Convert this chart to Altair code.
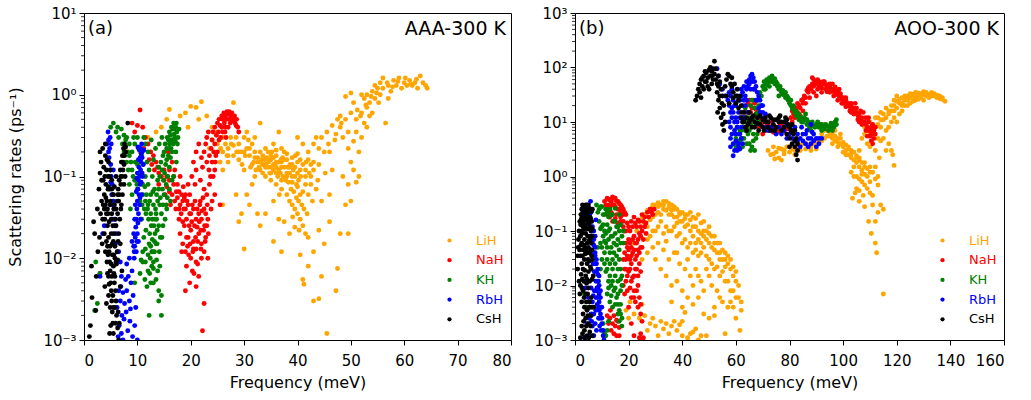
import altair as alt
import pandas as pd

SERIES = ["LiH", "NaH", "KH", "RbH", "CsH"]
COLORS = ["#FFA500", "#FF0000", "#008000", "#0000FF", "#000000"]

# ---------------- panel (a): AAA-300 K  (frequency meV, scattering rate ps^-1)
A_CSH = [(1.0,0.0011),(1.2,0.0015),(1.5,0.0033),(1.4,0.008),(1.8,0.028),(2.0,0.02),(2.2,0.0023),(2.3,0.006),(2.5,0.04),
         (2.6,0.012),(2.8,0.07),(3.0,0.11),(3.0,0.2),(3.2,0.15),(3.3,0.05),(3.5,0.03),(3.6,0.09),(3.8,0.06),(3.4,0.015),
         (4.0,0.18),(4.2,0.12),(4.1,0.08),(4.3,0.05),(4.5,0.035),(4.4,0.025),(4.6,0.018),(4.7,0.012),(4.8,0.009),(4.9,0.007),
         (5.0,0.005),(5.1,0.004),(5.2,0.003),(5.3,0.0022),(5.4,0.0016),(5.5,0.0012),(4.2,0.016),(4.6,0.006),(4.9,0.0025),
         (5.0,0.0015),(4.5,0.1),(4.8,0.07),(5.0,0.05),(5.2,0.035),(5.4,0.025),(5.3,0.015),(5.6,0.02),(5.8,0.01),(5.5,0.008),
         (5.7,0.005),(5.9,0.004),(6.0,0.003),(6.1,0.002),(6.3,0.0014),(5.8,0.006),(5.1,0.02),(4.4,0.04),(3.9,0.03),(4.0,0.012),
         (4.3,0.009),(3.8,0.02),(5.6,0.04),(5.9,0.03),(6.2,0.05),(6.4,0.07),(6.6,0.09),(6.8,0.12),(7.0,0.15),(7.2,0.18),
         (7.4,0.22),(7.6,0.25),(7.8,0.2),(7.5,0.14),(7.1,0.1),(6.9,0.08),(6.6,0.06),(6.3,0.035),(6.0,0.025),(6.5,0.02),
         (6.7,0.03),(7.0,0.045),(5.0,0.12),(5.2,0.09),(5.4,0.06),(3.7,0.13),(4.0,0.25),(3.5,0.22),(8.2,0.45),(6.8,0.015),
         (6.2,0.012),(5.5,0.0025),(6.5,0.001),(4.8,0.0012),(4.6,0.0035),(4.7,0.028),(5.3,0.011),(4.4,0.014),(5.6,0.0065),
         (6.1,0.0085),(3.6,0.045),(4.9,0.045),(5.7,0.075),(6.0,0.1),(7.3,0.12),
         (4.1,0.055),(4.6,0.075),(5.1,0.03),(5.6,0.011),(6.4,0.016),(6.9,0.04),(7.2,0.06),(7.5,0.08),(7.7,0.1),(3.9,0.1),
         (4.3,0.16),(3.3,0.09),(3.1,0.035),(2.9,0.018),(4.7,0.0048),(5.2,0.006),(5.4,0.0035),(5.8,0.0025),(6.4,0.0022),
         (4.4,0.0065),(3.9,0.0045),(4.2,0.0028),(5.9,0.0016),(6.6,0.0016),(6.8,0.0045),(7.1,0.007),(6.3,0.0095),
         (5.5,0.06),(5.7,0.045),(6.0,0.04),(6.3,0.06),(6.5,0.05),(6.9,0.1),(7.3,0.15),(7.6,0.18),(7.8,0.23),(4.6,0.15),
         (4.8,0.1),(5.2,0.07),(4.5,0.07),(4.2,0.035),(4.0,0.045),(3.8,0.04),(5.5,0.016),(5.8,0.014),(6.0,0.009),(5.1,0.0085),
         (4.5,0.011),(4.9,0.014)]
A_RBH = [(4.5,0.35),(4.6,0.28),(4.8,0.22),(4.7,0.17),(5.0,0.14),(5.1,0.1),(5.3,0.08),(5.2,0.06),(5.5,0.05),(5.6,0.04),
         (5.4,0.03),(5.8,0.025),(6.0,0.02),(5.9,0.015),(4.3,0.25),(4.9,0.3),(5.5,0.12),(3.5,0.02),(3.0,0.006),(3.8,0.025),
         (6.5,0.012),(6.8,0.009),(7.0,0.006),(6.5,0.004),(6.8,0.003),(7.1,0.002),(6.6,0.0015),(7.0,0.0012),(7.3,0.001),
         (6.2,0.0025),(7.5,0.0018),(8.0,0.004),(8.5,0.003),(8.8,0.005),(9.0,0.007),(8.3,0.006),(8.7,0.0024),(9.2,0.0035),
         (9.5,0.0015),(10.0,0.001),(9.7,0.0025),(8.0,0.0085),(9.4,0.012),(9.0,0.016),(10.8,0.25),(10.6,0.22),(10.9,0.2),
         (10.5,0.17),(10.7,0.15),(10.3,0.13),(10.6,0.12),(10.4,0.1),(10.2,0.09),(10.5,0.08),(10.1,0.07),(10.3,0.06),
         (10.0,0.05),(10.4,0.045),(9.9,0.04),(10.2,0.035),(9.8,0.03),(10.1,0.027),(9.7,0.024),(10.0,0.02),(9.6,0.018),
         (9.9,0.016),(9.5,0.014),(9.8,0.012),(10.6,0.03),(10.8,0.06),(11.0,0.1),(11.1,0.14),(10.2,0.016),(9.3,0.02),
         (9.4,0.01),(8.5,0.01),(7.6,0.0028),(8.2,0.0013),(6.9,0.0045),(10.7,0.19),(10.9,0.11),
         (4.6,0.2),(4.9,0.12),(5.0,0.085),(5.3,0.045),(5.7,0.03),(5.1,0.25),(10.4,0.21),(10.2,0.16),(10.0,0.11),(9.8,0.065),
         (9.6,0.045),(9.5,0.03),(10.5,0.055),(10.7,0.085),(10.9,0.17),(11.2,0.21),(10.1,0.23),(9.9,0.095),(9.3,0.014),
         (7.8,0.0055),(7.3,0.0038),(8.6,0.0017),(9.1,0.0011),(6.4,0.0011),(7.9,0.0022)]
A_KH = [(5.0,0.4),(5.5,0.45),(6.0,0.35),(6.5,0.3),(7.0,0.38),(7.5,0.32),(8.0,0.3),(6.3,0.4),(7.8,0.28),(8.5,0.25),(9.0,0.2),
        (8.8,0.15),(8.3,0.12),(8.5,0.08),(9.0,0.06),(8.7,0.04),(9.2,0.1),(11.5,0.25),(12.0,0.2),(11.8,0.15),(12.2,0.12),
        (11.5,0.1),(12.0,0.08),(11.7,0.06),(12.3,0.05),(11.9,0.04),(12.5,0.035),(12.1,0.03),(12.6,0.025),(12.3,0.02),
        (12.8,0.017),(12.5,0.014),(12.9,0.012),(12.4,0.01),(12.7,0.008),(12.0,0.007),(13.0,0.009),(13.2,0.012),(13.5,0.015),
        (13.3,0.02),(13.6,0.03),(13.4,0.04),(13.8,0.05),(13.6,0.06),(14.0,0.07),(13.8,0.09),(14.2,0.1),(14.0,0.13),
        (14.4,0.15),(14.6,0.12),(14.8,0.18),(15.0,0.2),(15.2,0.25),(15.5,0.22),(15.6,0.3),(15.8,0.28),(16.0,0.35),
        (16.2,0.32),(16.4,0.4),(16.6,0.38),(16.8,0.45),(17.0,0.42),(17.2,0.4),(17.4,0.35),(17.0,0.3),(16.7,0.25),(16.5,0.2),
        (16.2,0.17),(16.0,0.13),(15.7,0.1),(15.4,0.08),(15.0,0.06),(14.8,0.045),(14.5,0.035),(14.8,0.025),(15.2,0.03),
        (15.5,0.04),(16.2,0.05),(16.0,0.07),(17.2,0.2),(17.5,0.25),(17.3,0.15),(16.8,0.1),(11.0,0.06),(11.3,0.04),
        (10.8,0.03),(11.2,0.018),(11.0,0.012),(11.5,0.009),(13.8,0.007),(14.2,0.008),(11.8,0.0045),(13.0,0.005),(14.0,0.004),
        (14.5,0.0035),(12.2,0.002),(14.5,0.002),(2.0,0.0023),(2.5,0.0028),(3.0,0.0065),(2.2,0.009),(9.5,0.005),(10.5,0.0065),
        (13.5,0.0055),(14.0,0.003),(16.9,0.33),(17.1,0.27),(16.4,0.28),(15.9,0.22),(13.1,0.025),(12.2,0.015),(11.6,0.022),
        (9.6,0.15),(9.9,0.08),(12.9,0.065),(14.3,0.055),
        (8.2,0.2),(7.2,0.25),(9.3,0.3),(10.2,0.22),(10.8,0.18),(11.2,0.3),(11.1,0.14),(11.4,0.075),(10.9,0.045),(11.6,0.035),
        (12.8,0.1),(13.2,0.07),(13.0,0.16),(12.6,0.28),(13.4,0.22),(14.1,0.25),(14.6,0.3),(15.3,0.14),(15.1,0.11),(14.2,0.045),
        (13.7,0.022),(13.2,0.016),(12.7,0.012),(14.1,0.012),(14.6,0.018),(15.6,0.055),(16.5,0.09),(17.6,0.3),(17.8,0.38),
        (15.4,0.045),(12.3,0.0065),(11.4,0.0055),(10.7,0.0095),(13.6,0.0095),
        (7.5,0.2),(8.0,0.15),(8.5,0.18),(9.0,0.12),(9.5,0.09),(10.0,0.07),(10.5,0.05),(10.0,0.14),(10.5,0.11),(9.5,0.25),
        (10.0,0.3),(11.0,0.08),(11.5,0.05),(12.0,0.045),(12.5,0.06),(13.0,0.045),(13.5,0.035),(12.8,0.03),(13.3,0.03),
        (14.0,0.025),(13.7,0.015),(14.3,0.018),(12.0,0.011),(11.5,0.013),(11.0,0.009),(12.5,0.005),(13.0,0.0075),(15.5,0.16),
        (16.0,0.25),(16.3,0.22),(16.9,0.38),(17.3,0.45),(15.8,0.18),(14.9,0.09),(14.7,0.07)]
A_NAH = [(10.5,0.65),(9.0,0.45),(10.0,0.42),(11.0,0.4),(9.5,0.35),(11.5,0.3),(12.0,0.25),(11.2,0.22),(12.5,0.2),(13.0,0.18),
         (12.7,0.14),(13.2,0.12),(14.0,0.11),(13.5,0.15),(14.5,0.1),(14.0,0.08),(15.0,0.09),(15.5,0.075),(15.2,0.06),
         (16.0,0.065),(16.5,0.06),(16.2,0.045),(17.0,0.05),(17.5,0.055),(17.2,0.04),(18.0,0.045),(18.5,0.05),(18.2,0.035),
         (19.0,0.04),(19.5,0.045),(19.2,0.03),(20.0,0.035),(20.5,0.04),(21.0,0.03),(21.5,0.035),(22.0,0.03),(22.5,0.04),
         (18.8,0.025),(18.0,0.02),(18.5,0.015),(19.0,0.012),(19.5,0.018),(20.0,0.022),(20.5,0.016),(21.0,0.013),(21.5,0.02),
         (22.0,0.015),(22.5,0.012),(23.0,0.025),(23.2,0.03),(19.2,0.008),(20.0,0.01),(21.0,0.009),(22.0,0.01),(20.3,0.007),
         (21.5,0.006),(19.8,0.005),(19.0,0.004),(22.5,0.0028),(22.2,0.0013),(21.0,0.0045),(18.0,0.1),(17.5,0.08),(17.0,0.12),
         (16.5,0.15),(16.0,0.12),(15.8,0.2),(19.0,0.06),(19.5,0.08),(20.2,0.1),(20.5,0.15),(21.0,0.2),(21.5,0.25),(21.0,0.12),
         (20.8,0.08),(21.8,0.09),(22.2,0.13),(22.0,0.17),(22.5,0.2),(22.8,0.25),(23.0,0.3),(23.3,0.35),(23.0,0.15),(23.5,0.18),
         (23.8,0.22),(24.0,0.28),(24.2,0.35),(24.5,0.4),(24.8,0.32),(24.5,0.25),(25.0,0.45),(25.3,0.5),(25.5,0.42),
         (25.8,0.55),(26.0,0.5),(26.2,0.6),(26.5,0.55),(26.8,0.62),(27.0,0.58),(27.2,0.5),(27.5,0.55),(27.8,0.48),(28.0,0.5),
         (28.3,0.45),(28.5,0.42),(28.8,0.4),(29.0,0.35),(24.0,0.15),(24.5,0.12),(23.5,0.08),(23.0,0.06),(24.0,0.05),
         (22.5,0.07),(23.8,0.04),(25.0,0.2),(25.3,0.28),(26.0,0.35),(26.5,0.4),(27.0,0.4),(25.5,0.045),(24.5,0.06),(3.0,0.0065),
         (17.8,0.065),(18.6,0.075),(19.7,0.025),(20.8,0.05),(21.8,0.05),(22.8,0.018),(23.2,0.01),(20.6,0.0065),(19.4,0.014),
         (12.2,0.16),(13.8,0.13),(15.0,0.12),(16.8,0.08),(17.8,0.03),(18.8,0.055),(19.8,0.06),(20.2,0.028),(21.2,0.024),
         (21.7,0.045),(22.3,0.055),(22.8,0.035),(23.4,0.12),(24.3,0.2),(24.7,0.18),(25.6,0.3),(26.3,0.45),(26.7,0.5),
         (27.4,0.45),(18.3,0.012),(19.6,0.011),(20.9,0.018),(21.9,0.022),(20.4,0.012),(19.2,0.018),(22.7,0.016),(21.3,0.0085),
         (15.5,0.1),(16.0,0.09),(16.8,0.1),(17.3,0.065),(18.3,0.06),(18.7,0.04),(19.3,0.05),(19.8,0.035),(20.3,0.045),
         (20.7,0.025),(21.2,0.04),(21.6,0.028),(22.1,0.038),(22.6,0.025),(23.1,0.045),(17.8,0.04),(18.5,0.028),(19.9,0.015),
         (21.3,0.016),(22.4,0.022),(20.5,0.013),(21.9,0.013),(23.3,0.02),(23.7,0.1),(24.2,0.1),(24.6,0.15),(25.2,0.35),
         (25.8,0.4),(26.4,0.35),(27.2,0.62),(27.7,0.6),(28.2,0.55),(28.6,0.5),(26.6,0.3)]
A_LIH = [(10.5,0.2),(12.0,0.3),(13.5,0.35),(14.5,0.4),(15.5,0.5),(16.0,0.66),(17.0,0.4),(18.0,0.55),(19.0,0.6),(19.5,0.4),
         (20.0,0.72),(21.0,0.7),(21.5,0.5),(22.0,0.82),(23.0,0.55),(24.0,0.4),(25.0,0.35),(26.0,0.3),(27.0,0.22),(28.0,0.8),
         (26.5,0.25),(28.5,0.3),(29.0,0.25),(29.5,0.2),(30.0,0.3),(30.5,0.22),(31.0,0.18),(31.5,0.25),(32.0,0.2),(32.5,0.15),
         (33.0,0.45),(33.5,0.18),(34.0,0.14),(34.5,0.2),(35.0,0.16),(35.5,0.12),(36.0,0.18),(36.5,0.15),(37.0,0.22),
         (37.5,0.13),(38.0,0.16),(38.5,0.11),(39.0,0.14),(39.5,0.1),(40.0,0.15),(40.5,0.12),(41.0,0.25),(42.0,0.2),(43.0,0.15),
         (44.0,0.22),(45.0,0.2),(32.0,0.1),(33.0,0.12),(34.0,0.1),(35.0,0.09),(36.0,0.08),(37.0,0.07),(38.0,0.06),(38.5,0.05),
         (39.0,0.045),(39.5,0.04),(40.0,0.035),(40.5,0.03),(41.0,0.025),(41.5,0.02),(40.5,0.06),(41.5,0.08),(42.5,0.1),
         (43.5,0.07),(44.5,0.05),(46.0,0.06),(46.5,0.12),(30.0,0.12),(29.0,0.16),(28.0,0.18),(27.0,0.15),(26.0,0.12),
         (30.5,0.06),(31.0,0.045),(32.5,0.035),(34.0,0.035),(35.5,0.05),(36.5,0.03),(37.5,0.028),(29.0,0.028),(30.0,0.013),
         (33.0,0.025),(35.5,0.016),(37.0,0.012),(39.5,0.024),(42.0,0.018),(43.0,0.012),(44.0,0.022),(45.0,0.015),(46.0,0.028),
         (47.5,0.0075),(47.2,0.004),(43.0,0.003),(44.0,0.0032),(41.0,0.0055),(42.0,0.008),(40.5,0.011),(45.5,0.0012),
         (38.5,0.02),(41.2,0.0048),(44.5,0.006),(48.0,0.02),(49.0,0.045),(49.5,0.02),(26.0,0.045),(29.5,0.035),(28.5,0.06),
         (31.5,0.08),(44.5,0.3),(45.5,0.35),(46.5,0.42),(47.5,0.5),(48.0,0.4),(48.5,0.3),(49.0,0.5),(49.5,0.35),(49.5,0.22),
         (50.0,0.15),(50.5,0.27),(50.0,0.6),(50.5,0.8),(51.0,0.5),(51.0,0.35),(51.5,0.2),(51.5,0.1),(52.0,0.3),(52.0,0.6),
         (52.5,0.9),(52.5,0.45),(53.0,0.7),(53.0,1.0),(53.5,0.8),(54.0,1.1),(54.0,0.6),(54.5,0.9),(55.0,1.2),(55.5,1.0),
         (55.5,1.4),(56.0,1.2),(56.5,0.45),(57.0,1.3),(57.5,1.1),(58.0,1.5),(58.5,1.3),(59.0,1.6),(59.5,1.2),(60.0,1.4),
         (60.5,1.3),(61.0,1.5),(61.5,1.3),(62.0,1.4),(62.5,1.2),(63.0,1.7),(63.5,1.4),(64.0,1.3),(64.3,1.2),(56.0,1.6),
         (57.0,0.9),(49.0,0.95),(50.0,1.05),(48.0,0.55),(47.0,0.28),(46.0,0.2),(48.5,0.1),(49.5,0.08),(51.0,0.085),(50.5,0.12),
         (50.0,0.05),(53.5,0.55),(52.0,1.0),(54.5,1.3),(53.0,0.4),(33.5,0.14),(34.5,0.13),(35.5,0.17),(36.0,0.13),(36.8,0.11),
         (37.2,0.17),(34.8,0.11),(33.8,0.16),(35.2,0.2),(36.3,0.1),(38.2,0.13),(39.2,0.12),(32.8,0.13),(31.8,0.15),(37.8,0.09),
         (39.8,0.08),(38.8,0.07),(36.6,0.06),(40.2,0.09),(41.5,0.12),(42.5,0.14),(43.5,0.3),(30.8,0.28),(35.5,0.25),(37.5,0.2),
         (34.2,0.17),(35.8,0.14),(36.9,0.16),(34.6,0.15),(33.2,0.16),(32.2,0.12),(31.2,0.13),(30.2,0.18),(29.6,0.14),
         (28.6,0.2),(27.6,0.25),(26.8,0.18),(25.6,0.22),(38.6,0.14),(39.6,0.18),(40.6,0.1),(41.6,0.15),(42.2,0.11),
         (37.3,0.1),(38.3,0.085),(39.3,0.065),(40.8,0.045),(39.1,0.032),(40.3,0.022),(41.8,0.035),(42.8,0.05),(43.8,0.09),
         (45.2,0.11),(45.8,0.25),(47.2,0.33),(48.2,0.45),(51.2,0.65),(51.8,0.55),(52.8,0.75),(53.8,0.95),(54.8,1.05),
         (55.2,0.8),(56.8,1.4),(57.8,1.25),(58.8,1.45),(60.2,1.6),(61.2,1.35),(62.3,1.55),
         (30.0,0.2),(31.0,0.22),(32.0,0.17),(33.0,0.2),(34.0,0.22),(35.0,0.18),(36.0,0.21),(37.0,0.15),(38.0,0.19),
         (39.0,0.17),(40.0,0.19),(41.0,0.14),(42.0,0.16),(43.0,0.12),(44.0,0.14),(31.5,0.14),(32.5,0.17),(33.5,0.11),
         (34.5,0.16),(35.5,0.14),(36.5,0.12),(37.5,0.16),(38.5,0.13),(39.5,0.13),(40.5,0.16),(41.5,0.1),(42.5,0.08),
         (33.0,0.15),(34.0,0.13),(35.0,0.13),(36.0,0.15),(37.0,0.13),(38.0,0.11),(39.0,0.1),(40.0,0.11),(35.0,0.11),
         (36.0,0.11),(37.0,0.09),(38.0,0.1),(39.0,0.085),(40.0,0.075),(41.0,0.065),(42.0,0.06),(40.2,0.05),(41.2,0.04),
         (39.8,0.055),(28.0,0.24),(29.0,0.2),(27.5,0.3),(26.0,0.2),(27.0,0.18),(25.5,0.15),(25.0,0.25),(24.0,0.28),
         (23.5,0.22),(30.5,0.35),(32.0,0.3),(36.5,0.35),(40.0,0.3),(43.0,0.25)]

# ---------------- panel (b): AOO-300 K
B_CSH = [(1.0,0.02),(1.2,0.05),(1.5,0.1),(1.8,0.15),(2.0,0.08),(2.2,0.2),(2.5,0.25),(2.8,0.3),(3.0,0.12),(3.2,0.18),(3.5,0.22),
         (3.8,0.28),(4.0,0.3),(4.2,0.25),(4.5,0.2),(4.8,0.15),(5.0,0.3),(5.2,0.22),(5.5,0.18),(5.8,0.12),(6.0,0.1),(6.2,0.15),
         (6.5,0.08),(2.5,0.06),(3.0,0.045),(3.5,0.07),(4.0,0.09),(4.5,0.06),(5.0,0.05),(5.5,0.04),(6.0,0.06),(2.0,0.035),
         (2.5,0.025),(3.0,0.02),(3.5,0.03),(4.0,0.015),(4.5,0.025),(5.0,0.018),(5.5,0.012),(6.0,0.02),(6.5,0.03),(1.5,0.012),
         (2.0,0.01),(3.0,0.008),(4.0,0.007),(5.0,0.009),(6.0,0.006),(2.5,0.005),(3.5,0.004),(4.5,0.0035),(5.5,0.005),(3.0,0.003),
         (4.0,0.0025),(5.0,0.002),(6.0,0.0028),(2.5,0.0018),(3.5,0.0015),(4.5,0.0012),(5.5,0.0014),(2.0,0.0011),(6.5,0.0012),
         (7.0,0.004),(6.8,0.015),(3.0,0.14),(4.0,0.13),(5.0,0.11),(6.5,0.25),(1.0,0.035),(3.7,0.05),(4.7,0.04),(5.7,0.07),
         (2.7,0.1),(3.3,0.012),(4.3,0.011),(5.3,0.028),(6.3,0.045),
         (1.3,0.07),(1.7,0.045),(2.1,0.13),(2.4,0.17),(2.6,0.09),(2.9,0.22),(3.1,0.26),(3.4,0.16),(3.6,0.11),(3.9,0.2),
         (4.1,0.17),(4.4,0.28),(4.6,0.11),(4.9,0.22),(5.1,0.14),(5.4,0.26),(5.6,0.08),(5.9,0.17),(6.1,0.23),(6.4,0.11),
         (2.2,0.055),(2.8,0.035),(3.3,0.055),(3.8,0.038),(4.2,0.045),(4.8,0.08),(5.2,0.065),(5.8,0.045),(6.2,0.035),
         (2.3,0.016),(2.7,0.013),(3.6,0.019),(4.4,0.013),(4.9,0.03),(5.7,0.022),(6.4,0.013),(1.8,0.007),(2.6,0.009),
         (3.4,0.006),(4.2,0.005),(4.7,0.007),(5.3,0.004),(6.3,0.004),(3.2,0.0022),(4.2,0.0018),(4.8,0.0028),(5.8,0.0018),
         (2.8,0.0013),(3.8,0.0011),(5.1,0.0011),
         (45.0,25),(45.5,30),(46.0,40),(46.5,50),(47.0,60),(47.5,45),(48.0,70),(48.5,55),(49.0,80),(49.5,65),(50.0,90),
         (50.5,70),(51.0,85),(51.5,60),(52.0,130),(52.0,75),(52.5,95),(53.0,50),(53.0,35),(53.5,70),(53.5,25),(54.0,55),
         (54.0,18),(54.5,40),(54.5,12),(55.0,30),(55.0,9),(55.5,20),(55.5,7),(56.0,45),(56.5,60),(57.0,75),(57.5,70),
         (58.0,50),(58.5,45),(59.0,35),(60.0,30),(61.0,25),(62.0,20),(63.0,15),(64.0,12),(62.5,10),(63.5,8),(64.5,9),
         (65.5,11),(66.0,8),(67.0,10),(68.0,12),(69.0,9),(70.0,11),(71.0,10),(72.0,8),(73.0,12),(74.0,9),(75.0,11),(76.0,10),
         (77.0,7),(78.0,10),(79.0,6),(79.5,9),(80.0,5),(80.5,7),(81.0,4),(81.5,6),(82.0,3.5),(82.5,5),(83.0,3),(83.0,2.0),
         (82.5,2.5),(65.0,15),(66.5,13),(68.5,7),(70.5,7),(72.5,13),(74.5,7),(76.5,13),(78.5,12),(50.0,40),(51.0,50),
         (56.5,30),(57.5,22),
         (46.5,35),(47.5,65),(48.5,85),(49.5,45),(50.5,100),(51.5,95),(52.5,60),(48.0,40),(49.0,55),(51.0,70),(47.0,28),
         (53.5,45),(54.0,30),(54.8,22),(55.3,14),(56.0,10),(53.2,15),(62.0,12),(63.0,10),(64.0,7),(65.0,10),(66.0,12),
         (67.0,8),(68.0,9.5),(69.0,13),(70.0,8),(71.0,12),(72.0,10),(73.0,7),(74.0,11),(75.0,8),(76.0,12),(77.0,10),(78.0,8),
         (79.0,11),(80.0,8),(81.0,9),(81.0,6.5),(82.0,7),(80.0,3.5),(82.0,4.5),(83.0,4),(58.5,65),(59.5,50),(60.5,40),
         (61.5,30),(60.0,22),(61.0,18),(62.0,15),(59.0,28)]
B_RBH = [(4.5,0.3),(5.0,0.25),(5.5,0.2),(6.0,0.15),(6.5,0.12),(7.0,0.1),(7.0,0.07),(7.5,0.05),(7.5,0.035),(8.0,0.025),
         (8.0,0.018),(8.5,0.012),(8.5,0.009),(9.0,0.007),(9.0,0.005),(9.5,0.004),(9.5,0.003),(10.0,0.0025),(10.0,0.002),
         (10.5,0.0015),(10.5,0.0012),(6.5,0.06),(7.0,0.04),(7.5,0.025),(8.0,0.008),(8.5,0.006),(9.0,0.0035),(6.0,0.009),
         (6.5,0.005),(7.0,0.003),(7.5,0.002),(8.0,0.0015),(4.0,0.009),(5.0,0.006),(5.5,0.004),(6.0,0.003),(6.5,0.0018),
         (7.0,0.0012),(9.5,0.008),(9.0,0.015),(8.5,0.02),(5.5,0.0012),(4.5,0.002),(3.5,0.0011),(7.5,0.08),(6.0,0.22),
         (5.0,0.15),(5.5,0.12),(6.0,0.1),(6.5,0.08),(7.0,0.055),(7.5,0.04),(8.0,0.03),(8.5,0.016),(9.0,0.01),(9.5,0.006),
         (10.0,0.004),(6.2,0.04),(6.8,0.025),(7.2,0.018),(7.8,0.012),(8.2,0.009),(8.8,0.004),(9.3,0.0025),(9.8,0.0015),
         (7.2,0.008),(7.8,0.006),(8.3,0.0045),(6.8,0.0065),(5.3,0.0025),(6.2,0.0022),(7.8,0.0035),(8.8,0.0025),(9.2,0.0018),
         (10.8,0.001),(5.8,0.35),(7.8,0.16),
         (53.0,95),(53.5,70),(54.0,50),(55.0,40),(56.0,30),(57.0,25),(57.5,20),(58.0,15),(58.5,12),(58.0,8),(58.5,6),(59.0,4),
         (59.0,2.4),(59.5,10),(60.0,20),(60.0,6),(60.5,30),(61.0,15),(61.0,4),(61.5,25),(62.0,40),(62.0,8),(62.5,20),(63.0,45),
         (63.0,12),(64.0,55),(64.0,25),(64.5,15),(65.0,60),(65.5,70),(66.0,75),(66.5,65),(67.0,55),(67.5,45),(68.0,35),
         (68.5,30),(69.0,25),(69.5,20),(70.0,15),(70.5,12),(71.0,10),(71.5,8),(72.0,7),(66.5,40),(67.5,25),(68.5,18),
         (58.0,3.5),(59.5,3),(60.0,4.5),(61.0,3.5),(62.0,5),(80.0,6),(81.0,5),(82.0,8),(83.0,6),(84.0,5),(85.0,4.5),(86.0,6),
         (87.0,5),(88.0,4),(89.0,4.5),(90.0,3.5),(91.0,5),(84.5,8),(86.5,7),(88.5,6.5),(79.0,9),(84.0,3.5),(87.0,3.5),(88.0,9),
         (59.5,7),(60.5,10),(61.5,6),(62.5,12),(63.5,30),(58.5,18),(59.0,25),
         (57.5,35),(58.0,30),(58.5,40),(59.0,15),(59.5,20),(60.0,12),(60.5,8),(61.0,25),(61.5,12),(62.0,30),(62.5,35),
         (63.0,25),(63.5,20),(64.0,40),(64.5,45),(65.0,50),(65.5,40),(66.0,55),(67.0,40),(68.0,25),(69.0,15),(70.0,20),
         (71.0,14),(72.0,10),(73.0,8),(74.0,7),(75.0,6),(76.0,8),(77.0,6),(78.0,7),(79.0,5),(81.0,7),(83.0,4.5),(85.0,6),
         (86.0,4),(88.0,5),(89.0,6),(90.0,5),(91.0,4),(92.0,5),(57.5,10),(58.0,5),(60.5,3),(62.5,4),(61.5,3.2)]
B_KH = [(8.0,0.3),(9.0,0.25),(10.0,0.28),(11.0,0.2),(12.0,0.22),(13.0,0.25),(14.0,0.2),(15.0,0.15),(16.0,0.12),(17.0,0.13),
        (18.0,0.1),(9.0,0.15),(10.0,0.12),(11.0,0.1),(12.0,0.13),(13.0,0.11),(14.0,0.08),(15.0,0.09),(16.0,0.07),(17.0,0.06),
        (10.5,0.08),(11.5,0.06),(12.5,0.07),(13.5,0.05),(14.5,0.04),(15.5,0.035),(16.5,0.03),(17.0,0.02),(17.5,0.015),
        (17.5,0.01),(11.0,0.04),(12.0,0.03),(13.0,0.025),(14.0,0.02),(15.0,0.015),(16.0,0.012),(11.5,0.018),(12.5,0.012),
        (13.5,0.01),(14.5,0.008),(15.5,0.006),(12.0,0.007),(13.0,0.005),(14.0,0.004),(16.0,0.0045),(16.5,0.0035),(17.0,0.003),
        (17.5,0.0025),(12.0,0.0015),(11.5,0.0012),(10.5,0.002),(4.0,0.004),(3.5,0.007),(8.5,0.05),(9.5,0.06),(15.0,0.26),
        (16.5,0.2),
        (8.5,0.22),(9.5,0.28),(10.5,0.2),(11.5,0.25),(12.5,0.18),(13.5,0.2),(14.5,0.15),(15.5,0.12),(16.5,0.1),(17.5,0.08),
        (18.0,0.06),(9.5,0.11),(10.5,0.13),(11.5,0.09),(12.5,0.1),(13.5,0.08),(14.5,0.06),(15.5,0.055),(16.5,0.045),
        (10.0,0.05),(11.0,0.065),(12.0,0.05),(13.0,0.04),(14.0,0.03),(15.0,0.025),(16.0,0.02),(17.0,0.013),(11.0,0.025),
        (12.0,0.02),(13.0,0.015),(14.0,0.012),(15.0,0.009),(16.0,0.007),(17.0,0.008),(12.5,0.009),(13.5,0.0065),(15.0,0.0045),
        (16.0,0.003),(17.0,0.0045),(17.5,0.0018),(16.5,0.0022),(12.5,0.0022),(11.0,0.0013),(8.8,0.012),(9.5,0.02),(10.0,0.03),
        (60.0,5),(60.5,8),(61.0,6),(61.5,4.5),(62.0,7),(62.5,10),(63.0,5),(63.5,12),(64.0,8),(64.5,15),(65.0,4),(65.5,20),
        (66.0,3.5),(66.5,6),(67.0,3),(67.5,9),(68.0,25),(68.5,15),(69.0,35),(69.5,20),(70.0,45),(70.5,55),(71.0,50),(71.5,60),
        (72.0,55),(72.5,65),(73.0,60),(73.5,70),(74.0,55),(74.5,50),(75.0,55),(75.5,45),(76.0,40),(76.5,45),(77.0,35),
        (77.5,38),(78.0,32),(78.5,28),(79.0,30),(79.5,25),(80.0,22),(80.5,25),(81.0,18),(81.5,20),(82.0,15),(82.5,16),
        (83.0,13),(83.5,14),(84.0,11),(84.5,12),(85.0,10),(86.0,11),(86.5,9),(87.0,10),(88.0,9),(89.0,8.5),(90.0,9),(91.0,8),
        (92.0,9),(93.0,7.5),(94.0,8.5),(95.0,8),(96.0,9),(97.0,10),(97.5,9),(88.0,7),(92.0,7),(96.0,7),(86.0,14),(65.0,12),
        (63.5,18),(66.0,25),(67.0,18),(71.0,40),(72.5,45),(76.0,30),(60.0,3.5),(68.5,10),
        (60.5,4),(61.5,7),(62.5,5),(63.5,7),(64.5,6),(65.5,9),(66.5,11),(67.5,14),(68.5,20),(69.5,30),(70.5,40),(71.5,48),
        (72.5,55),(73.5,55),(74.5,62),(75.5,50),(76.5,40),(77.5,32),(78.5,35),(79.5,28),(80.5,20),(81.5,17),(82.5,13),
        (83.5,11),(84.5,10),(85.5,12),(86.5,11),(87.5,8),(88.5,10),(89.5,8),(90.5,10),(91.5,9),(92.5,8),(93.5,9),(94.5,7),
        (95.5,9.5),(96.5,8),(97.5,11),(62.5,3.5),(64.0,4),(65.5,3),(66.5,4.5),(67.5,5),(68.0,6),(63.0,8),(64.0,11),(65.0,7)]
B_NAH = [(11.0,0.35),(12.0,0.4),(13.0,0.38),(14.0,0.42),(15.0,0.4),(16.0,0.35),(17.0,0.3),(18.0,0.25),(19.0,0.2),(12.5,0.3),
         (14.5,0.3),(16.5,0.25),(18.0,0.15),(13.5,0.22),(15.5,0.2),(17.0,0.18),(14.0,0.15),(16.0,0.14),(12.0,0.25),
         (18.0,0.12),(19.0,0.1),(20.0,0.12),(21.0,0.15),(22.0,0.18),(23.0,0.12),(24.0,0.15),(25.0,0.2),(26.0,0.18),(27.0,0.22),
         (28.0,0.25),(29.0,0.2),(19.0,0.06),(20.0,0.07),(21.0,0.05),(22.0,0.08),(23.0,0.06),(24.0,0.09),(25.0,0.1),(26.0,0.12),
         (18.5,0.04),(19.5,0.035),(20.5,0.03),(21.5,0.04),(22.5,0.03),(23.5,0.045),(24.5,0.05),(19.0,0.02),(20.0,0.018),
         (21.0,0.025),(22.0,0.015),(23.0,0.02),(24.0,0.025),(18.0,0.01),(19.0,0.012),(20.5,0.009),(22.0,0.008),(23.5,0.01),
         (21.0,0.006),(22.5,0.005),(23.5,0.004),(24.5,0.003),(25.0,0.0022),(20.0,0.004),(18.5,0.007),(12.0,0.0028),
         (13.0,0.0025),(14.0,0.002),(15.0,0.0018),(16.0,0.0022),(13.5,0.0015),(15.5,0.0012),(16.5,0.0012),(24.0,0.0011),
         (25.0,0.001),(21.0,0.002),(22.0,0.0012),
         (11.5,0.3),(12.5,0.38),(13.5,0.35),(14.5,0.4),(15.5,0.35),(16.5,0.32),(17.5,0.28),(18.5,0.22),(12.0,0.2),(13.0,0.27),
         (14.0,0.3),(15.0,0.28),(16.0,0.25),(17.0,0.22),(18.0,0.2),(13.0,0.18),(15.0,0.17),(17.0,0.15),(18.5,0.1),(19.5,0.14),
         (20.5,0.1),(21.5,0.12),(22.5,0.14),(23.5,0.16),(24.5,0.12),(25.5,0.15),(26.5,0.14),(27.5,0.18),(28.5,0.22),
         (29.5,0.25),(19.5,0.05),(20.5,0.06),(21.5,0.07),(22.5,0.06),(23.5,0.07),(24.5,0.08),(25.5,0.07),(26.5,0.09),
         (18.0,0.03),(19.0,0.03),(20.0,0.045),(21.0,0.035),(22.0,0.045),(23.0,0.035),(24.0,0.04),(25.0,0.05),(18.5,0.02),
         (19.5,0.015),(20.5,0.02),(21.5,0.014),(22.5,0.02),(23.5,0.015),(24.5,0.018),(19.5,0.008),(21.0,0.012),(22.0,0.006),
         (23.0,0.008),(24.0,0.006),(24.5,0.0045),(12.5,0.002),(13.2,0.0035),(14.5,0.0028),(15.5,0.0023),(16.5,0.0017),
         (14.5,0.0013),(24.5,0.0013),(25.5,0.0011),
         (63.0,12),(64.0,20),(65.0,25),(66.0,18),(67.0,22),(68.0,15),(69.0,12),(70.0,10),(65.5,15),(64.5,10),(68.5,8),(70.0,6),
         (71.0,7),(72.0,9),(73.0,8),(74.0,6.5),(75.0,8),(76.0,7),(77.0,9),(78.0,7),(79.0,6),(80.0,8),(81.0,10),(82.0,12),
         (83.0,15),(84.0,18),(85.0,22),(86.0,28),(87.0,35),(88.0,40),(88.5,65),(89.0,45),(90.0,50),(91.0,55),(92.0,50),
         (93.0,55),(94.0,48),(95.0,45),(96.0,40),(97.0,38),(98.0,35),(99.0,30),(100.0,28),(101.0,25),(102.0,22),(103.0,20),
         (104.0,18),(105.0,15),(106.0,14),(107.0,12),(108.0,10),(109.0,8),(110.0,7),(111.0,6),(111.5,5),(110.5,4.5),(109.0,5.5),
         (108.5,7),(107.0,9),(105.5,11),(104.0,14),(102.5,16),(101.0,19),(99.5,22),(98.0,25),(96.5,30),(95.0,35),(93.5,40),
         (92.0,42),(90.5,40),(89.0,35),(87.5,28),(86.0,22),(85.0,16),(84.0,13),(90.0,30),(92.0,35),(94.0,36),(100.0,22),
         (103.0,15),(106.0,10),(109.5,10),(111.0,9),(112.0,8),(107.5,15),(104.5,22),(98.5,40),(96.0,50),(91.0,45),
         (63.5,15),(64.5,22),(65.5,20),(66.5,25),(67.5,17),(68.5,12),(69.5,9),(70.5,8),(71.5,10),(72.5,7),(73.5,10),(74.5,8),
         (75.5,6.5),(76.5,9),(77.5,8),(78.5,10),(79.5,7.5),(80.5,12),(81.5,14),(82.5,18),(83.5,20),(84.5,25),(85.5,30),
         (86.5,38),(87.5,45),(88.5,50),(89.5,55),(90.5,60),(91.5,50),(92.5,55),(93.5,48),(94.5,42),(95.5,40),(96.5,36),
         (97.5,32),(98.5,30),(99.5,26),(100.5,24),(101.5,22),(102.5,19),(103.5,17),(104.5,15),(105.5,13),(106.5,11),
         (107.5,10),(108.5,9),(109.5,7),(110.5,6),(111.0,4),(110.0,5.5),(112.0,6),(111.5,7),(110.5,8),(109.5,12),(108.5,12),
         (106.5,16),(105.0,18),(103.0,22),(101.0,28),(99.0,33),(97.0,44),(95.0,50),(93.0,50),(89.0,60),(87.0,42),(85.0,26),
         (83.0,22),(81.0,16)]
B_LIH = [(24.0,0.15),(26.0,0.2),(28.0,0.25),(30.0,0.3),(32.0,0.3),(34.0,0.35),(36.0,0.3),(38.0,0.25),(40.0,0.22),(42.0,0.2),
         (44.0,0.18),(46.0,0.2),(48.0,0.15),(50.0,0.12),(52.0,0.08),(54.0,0.06),(56.0,0.04),(58.0,0.02),(60.0,0.012),
         (61.0,0.006),(62.0,0.0035),(61.5,0.0015),(27.0,0.12),(29.0,0.18),(31.0,0.22),(33.0,0.25),(35.0,0.2),(37.0,0.18),
         (39.0,0.15),(41.0,0.12),(43.0,0.1),(45.0,0.12),(47.0,0.09),(49.0,0.07),(51.0,0.05),(53.0,0.04),(55.0,0.03),(57.0,0.025),
         (59.0,0.015),(28.0,0.08),(30.0,0.1),(32.0,0.15),(34.0,0.12),(36.0,0.1),(38.0,0.08),(40.0,0.06),(42.0,0.05),(44.0,0.04),
         (46.0,0.035),(48.0,0.05),(50.0,0.03),(52.0,0.02),(54.0,0.015),(56.0,0.012),(58.0,0.008),(31.0,0.06),(33.0,0.045),
         (35.0,0.03),(37.0,0.04),(39.0,0.025),(41.0,0.02),(43.0,0.015),(45.0,0.02),(47.0,0.012),(49.0,0.02),(51.0,0.01),
         (53.0,0.008),(55.0,0.005),(57.0,0.004),(30.0,0.03),(32.0,0.02),(34.0,0.015),(36.0,0.01),(38.0,0.012),(40.0,0.008),
         (42.0,0.006),(44.0,0.0045),(46.0,0.006),(48.0,0.003),(50.0,0.0025),(52.0,0.0028),(59.0,0.004),(60.0,0.0025),
         (22.0,0.003),(24.0,0.0025),(26.0,0.0028),(28.0,0.002),(30.0,0.0018),(32.0,0.0022),(34.0,0.002),(36.0,0.0018),
         (38.0,0.0015),(40.0,0.0012),(42.0,0.0011),(44.0,0.0014),(46.0,0.001),(31.0,0.0012),(35.0,0.0013),(25.0,0.0045),
         (20.0,0.0025),(19.0,0.0035),(20.5,0.005),(40.0,0.0022),(41.0,0.0032),(49.0,0.0012),(56.0,0.0013),
         (29.0,0.28),(31.0,0.33),(33.0,0.3),(35.0,0.32),(37.0,0.28),(39.0,0.22),(41.0,0.2),(43.0,0.22),(36.0,0.24),(38.0,0.18),
         (44.0,0.12),(46.0,0.1),(48.0,0.08),(50.0,0.06),(52.0,0.045),(54.0,0.03),(56.0,0.022),(45.0,0.06),(47.0,0.04),
         (25.0,0.18),(27.0,0.24),(29.0,0.3),(31.0,0.28),(33.0,0.35),(35.0,0.27),(37.0,0.25),(39.0,0.2),(41.0,0.17),(43.0,0.16),
         (45.0,0.17),(47.0,0.14),(49.0,0.1),(51.0,0.08),(53.0,0.06),(55.0,0.045),(57.0,0.035),(59.0,0.022),(26.0,0.14),
         (28.0,0.16),(30.0,0.2),(32.0,0.2),(34.0,0.24),(36.0,0.2),(38.0,0.14),(40.0,0.15),(42.0,0.13),(44.0,0.08),(46.0,0.07),
         (48.0,0.1),(50.0,0.09),(52.0,0.06),(54.0,0.04),(56.0,0.03),(58.0,0.03),(60.0,0.018),(27.0,0.07),(29.0,0.1),
         (31.0,0.12),(33.0,0.09),(35.0,0.1),(37.0,0.12),(39.0,0.09),(41.0,0.07),(43.0,0.06),(45.0,0.045),(47.0,0.06),
         (49.0,0.035),(51.0,0.025),(53.0,0.022),(55.0,0.018),(57.0,0.012),(59.0,0.008),(61.0,0.01),(34.0,0.065),(38.0,0.04),
         (42.0,0.03),(46.0,0.015),(50.0,0.015),(54.0,0.006),(58.0,0.005),(48.0,0.008),(44.0,0.01),(40.0,0.004),(36.0,0.005),
         (52.0,0.004),(23.0,0.1),(22.0,0.06),(25.0,0.03),(27.0,0.04),(29.0,0.05),(60.0,0.006),(62.0,0.005),(27.0,0.0015),
         (29.0,0.0025),(33.0,0.0016),(37.0,0.0022),(39.0,0.0019),(43.0,0.0013),(45.0,0.0016),(47.0,0.0012),
         (72.0,3.0),(73.0,2.5),(74.0,3.5),(75.0,2.8),(76.0,2.2),(77.0,3.2),(78.0,2.6),(79.0,3.5),(80.0,2.8),(81.0,3.2),
         (82.0,2.5),(83.0,3.5),(84.0,3.0),(85.0,4.0),(86.0,3.2),(87.0,3.8),(88.0,3.5),(89.0,4.0),(90.0,3.2),(91.0,4.5),(92.0,6),
         (93.0,5),(94.0,7),(95.0,5.5),(96.0,6),(97.0,4.5),(98.0,5),(99.0,4),(100.0,3.5),(101.0,3),(102.0,2.5),(103.0,2.2),
         (104.0,2),(105.0,1.8),(106.0,1.5),(107.0,1.3),(108.0,1.1),(109.0,1.0),(110.0,0.8),(96.0,4),(98.0,3.5),(100.0,2.8),
         (102.0,3.2),(104.0,1.5),(106.0,2.2),(108.0,1.8),(103.0,1.2),(105.0,1.0),(107.0,0.8),(109.0,0.6),(104.5,0.5),
         (106.0,0.35),(103.5,0.4),(107.5,0.45),(111.0,1.2),(112.0,0.9),(113.0,0.7),(114.0,0.3),(115.0,0.25),(110.0,0.5),
         (111.0,0.3),(109.5,0.15),(110.5,0.09),(112.0,0.06),(112.5,0.04),(115.0,0.007),(99.0,6),(97.0,7),(95.0,8),(93.0,9),
         (77.0,2.0),(74.5,2.1),
         (74.0,2.6),(76.0,3.3),(78.0,3.0),(80.0,3.5),(82.0,3.0),(84.0,3.8),(86.0,4.0),(88.0,3.0),(90.0,4.2),(92.0,4.5),
         (93.0,7),(94.0,5.5),(95.0,6.5),(96.0,5),(97.0,5.5),(98.0,4.2),(99.0,5),(100.0,4.2),(101.0,3.8),(102.0,3.5),
         (103.0,3),(104.0,2.8),(105.0,2.4),(106.0,2),(107.0,1.8),(108.0,1.5),(109.0,1.4),(110.0,1.2),(101.0,2.5),(103.0,2.6),
         (105.0,2.2),(107.0,1.1),(104.0,1.0),(106.0,0.9),(108.0,0.7),(105.0,0.6),(110.0,1.5),(112.0,1.5),(113.0,1.0),
         (106.0,0.55),(108.0,0.28),(111.0,0.45),(113.0,0.22),(112.0,0.15),
         (106.0,3),(107.0,5),(108.0,8),(109.0,4),(110.0,10),(111.0,6),(112.0,12),(113.0,9),(114.0,15),
         (115.0,11),(116.0,18),(117.0,14),(118.0,20),(119.0,25),(120.0,18),(121.0,22),(122.0,28),(123.0,25),(124.0,30),
         (125.0,28),(126.0,32),(127.0,35),(128.0,30),(129.0,33),(130.0,36),(131.0,30),(132.0,32),(133.0,35),(134.0,30),
         (135.0,28),(136.0,27),(137.0,26),(138.0,24),(118.0,3),(117.0,4),(116.0,7),(115.0,5),(119.0,12),(120.0,10),(121.0,14),
         (122.0,16),(124.0,20),(126.0,24),(128.0,26),(130.0,25),(120.0,30),(122.0,22),(118.5,2.5),(114.0,8),(119.0,1.6),
         (112.0,3),(113.5,2.2),
         (108.0,6),(109.0,7),(110.0,6),(111.0,9),(112.0,8),(113.0,12),(114.0,11),(115.0,14),(116.0,12),(117.0,16),(118.0,16),
         (119.0,20),(120.0,24),(121.0,26),(122.0,20),(123.0,30),(124.0,25),(125.0,33),(126.0,28),(127.0,30),(128.0,34),
         (129.0,28),(130.0,32),(131.0,35),(132.0,28),(133.0,30),(134.0,33),(135.0,31),(136.0,30),(137.0,28),(123.0,20),
         (125.0,22),(127.0,25),(117.0,8),(118.0,10),(119.0,16),(114.0,4.5),(116.0,3),(113.0,5),(110.0,3.5)]

A_SETS = [A_LIH, A_NAH, A_KH, A_RBH, A_CSH]
B_SETS = [B_LIH, B_NAH, B_KH, B_RBH, B_CSH]

A_XTICKS = [0, 10, 20, 30, 40, 50, 60, 70, 80]
B_XTICKS = [0, 20, 40, 60, 80, 100, 120, 140, 160]
A_YTICKS = [0.001, 0.01, 0.1, 1, 10]
B_YTICKS = [0.001, 0.01, 0.1, 1, 10, 100, 1000]
A_MINOR = [m * d for d in [0.001, 0.01, 0.1, 1] for m in range(2, 10)]
B_MINOR = [m * d for d in [0.001, 0.01, 0.1, 1, 10, 100] for m in range(2, 10)]

FONT = "DejaVu Sans"
SUP_EXPR = "['10\u207b\u00b3','10\u207b\u00b2','10\u207b\u00b9','10\u2070','10\u00b9','10\u00b2','10\u00b3'][round(log(datum.value)/LN10)+3]"
LABEL_COLOR_EXPR = ("datum.value == 'LiH' ? '#FFA500' : datum.value == 'NaH' ? '#FF0000' : "
                    "datum.value == 'KH' ? '#008000' : datum.value == 'RbH' ? '#0000FF' : '#000000'")


def to_frame(sets):
    rows = []
    for name, pts in zip(SERIES, sets):
        for x, y in pts:
            rows.append({"series": name, "freq": x, "rate": y})
    return pd.DataFrame(rows)


def panel(sets, xmax, xticks, ydom, yticks, minor, tag, label, width, ytitle):
    xs = alt.Scale(domain=[0, xmax], nice=False, zero=False)
    ys = alt.Scale(type="log", domain=ydom, nice=False)
    yaxis = alt.Axis(values=yticks, labelExpr=SUP_EXPR, tickSize=5, labelPadding=3,
                     title=ytitle if ytitle else "", titlePadding=19)
    pts = alt.Chart(to_frame(sets)).mark_circle(size=24, opacity=1, clip=True).encode(
        x=alt.X("freq:Q", scale=xs,
                axis=alt.Axis(values=xticks, title="Frequency (meV)", tickSize=5, labelPadding=8, titlePadding=6)),
        y=alt.Y("rate:Q", scale=ys, axis=yaxis),
        color=alt.Color("series:N", sort=SERIES, scale=alt.Scale(domain=SERIES, range=COLORS),
                        legend=alt.Legend(title=None, orient="none", legendX=width - 68, legendY=221,
                                          symbolType="circle", symbolSize=18, symbolStrokeWidth=0,
                                          labelFontSize=13, labelFont=FONT, labelOffset=20,
                                          rowPadding=5.7, padding=0, labelColor={"expr": LABEL_COLOR_EXPR})),
    )
    ticks = alt.Chart(pd.DataFrame({"rate": minor})).mark_rule(color="black", strokeWidth=0.8).encode(
        y=alt.Y("rate:Q", scale=ys, axis=yaxis), x=alt.value(0), x2=alt.value(-3))
    tag_t = alt.Chart(pd.DataFrame({"t": [tag]})).mark_text(
        align="left", baseline="alphabetic", font=FONT, fontSize=18, color="black").encode(
        text="t:N", x=alt.value(4), y=alt.value(21))
    lab_t = alt.Chart(pd.DataFrame({"t": [label]})).mark_text(
        align="right", baseline="alphabetic", font=FONT, fontSize=19, color="black").encode(
        text="t:N", x=alt.value(width - 5), y=alt.value(22))
    return alt.layer(pts, ticks, tag_t, lab_t).properties(width=width, height=327)


pa = panel(A_SETS, 80, A_XTICKS, [0.001, 10], A_YTICKS, A_MINOR, "(a)", "AAA-300 K", 427,
           "Scattering rates (ps\u207b\u00b9)")
pb = panel(B_SETS, 160, B_XTICKS, [0.001, 1000], B_YTICKS, B_MINOR, "(b)", "AOO-300 K", 429, None)

chart = alt.hconcat(pa, pb, spacing=64, bounds="flush").resolve_scale(color="independent").resolve_legend(
    color="independent").properties(padding={"left": 7, "top": 5, "right": 5, "bottom": 5}).configure(
    font=FONT).configure_axis(
    labelFont=FONT, titleFont=FONT, labelFontSize=15, titleFontSize=16, titleFontWeight="normal",
    labelColor="black", titleColor="black", domainColor="black", tickColor="black", grid=False,
    domainWidth=1, tickWidth=1).configure_view(stroke="black", strokeWidth=1)

chart.save("out.html", embed_options={"renderer": "svg", "actions": False})
